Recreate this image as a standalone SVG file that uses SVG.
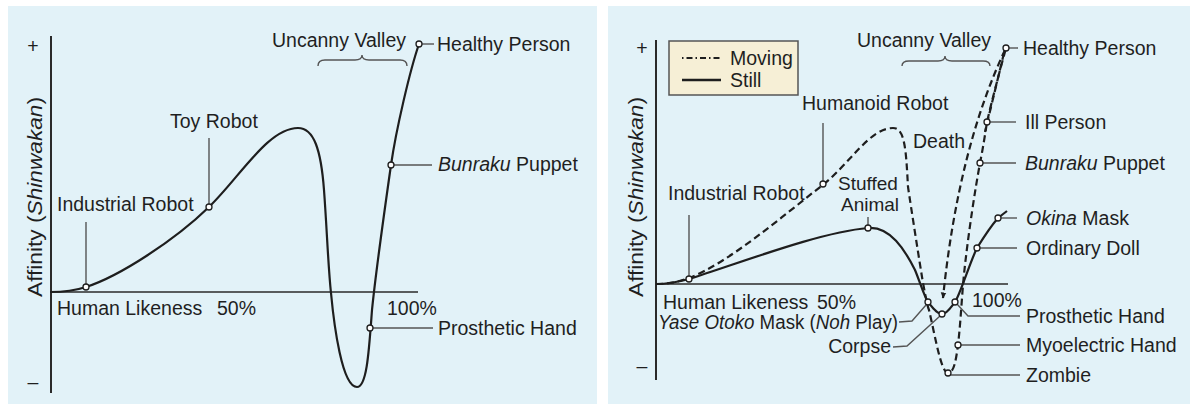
<svg xmlns="http://www.w3.org/2000/svg" width="1193" height="407" viewBox="0 0 1193 407">
<style>
text{font-family:"Liberation Sans",Arial,sans-serif;font-size:19.5px;fill:#1f1f1f}
.it{font-style:italic}
.panel{fill:#e2f2f8}
.axis{stroke:#2a2a2a;stroke-width:2;fill:none}
.xaxis{stroke:#2a2a2a;stroke-width:1.6;fill:none}
.still{stroke:#1e1e1e;stroke-width:2.2;fill:none}
.moving{stroke:#1e1e1e;stroke-width:2.2;fill:none;stroke-dasharray:7 4}
.lead{stroke:#555;stroke-width:1.4;fill:none}
.brace{stroke:#555;stroke-width:1.4;fill:none}
.pt{fill:#fff;stroke:#1e1e1e;stroke-width:1.3}
</style>
<defs>
<marker id="arr" viewBox="0 0 10 10" refX="8" refY="5" markerWidth="7" markerHeight="7" orient="auto" markerUnits="userSpaceOnUse">
<path d="M0,1 L9,5 L0,9 Z" fill="#1e1e1e"/>
</marker>
</defs>
<rect width="1193" height="407" fill="#fff"/>
<rect class="panel" x="8" y="6" width="589" height="398"/>
<rect class="panel" x="608" y="6" width="582" height="398"/>

<!-- LEFT PANEL -->
<g id="left-axes">
<line class="axis" x1="51" y1="36" x2="51" y2="393"/>
<line class="xaxis" x1="51" y1="292" x2="418" y2="292"/>
<text x="33" y="53" text-anchor="middle">+</text>
<text x="33" y="389" text-anchor="middle">–</text>
<text transform="translate(42,197) rotate(-90)" text-anchor="middle" textLength="200" lengthAdjust="spacingAndGlyphs">Affinity (<tspan class="it">Shinwakan</tspan>)</text>
<text x="57" y="315">Human Likeness</text>
<text x="217" y="315">50%</text>
<text x="387" y="315">100%</text>
</g>
<g id="left-connectors">
<path class="still" d="M50,292 C62,292 74,291 86,287 C120,276 175,240 209,207 C240,177 268,128 298,128 C314,128 321,150 324,190 C327,230 328,265 331,293 C334,325 342,387 357,387 C367,387 369,350 372,310 C375,280 386,200 391,165 C396,130 410,70 419,44"/>
<path class="brace" d="M318,66 Q318,60 325,60 L355,60 Q362,60 362,55 Q362,60 369,60 L400,60 Q407,60 407,66"/>
<line class="lead" x1="86" y1="222" x2="86" y2="284"/>
<line class="lead" x1="209" y1="138" x2="209" y2="204"/>
<line class="lead" x1="422" y1="44" x2="434" y2="44"/>
<line class="lead" x1="394" y1="165" x2="432" y2="165"/>
<line class="lead" x1="373" y1="328" x2="433" y2="328"/>
</g>
<g id="left-industrial-robot"><circle class="pt" cx="86" cy="287" r="3"/><text x="57" y="211">Industrial Robot</text></g>
<g id="left-toy-robot"><circle class="pt" cx="209" cy="207" r="3"/><text x="170" y="128">Toy Robot</text></g>
<g id="left-uncanny-valley"><text x="272" y="47">Uncanny Valley</text></g>
<g id="left-healthy-person"><circle class="pt" cx="419" cy="44" r="3"/><text x="437" y="51">Healthy Person</text></g>
<g id="left-bunraku"><circle class="pt" cx="391" cy="165" r="3"/><text x="438" y="171"><tspan class="it">Bunraku</tspan> Puppet</text></g>
<g id="left-prosthetic"><circle class="pt" cx="370" cy="328" r="3"/><text x="438" y="335">Prosthetic Hand</text></g>

<!-- RIGHT PANEL -->
<g id="right-axes">
<line class="axis" x1="656" y1="40" x2="656" y2="380"/>
<line class="xaxis" x1="656" y1="284" x2="1008" y2="284"/>
<text x="642" y="55" text-anchor="middle">+</text>
<text x="642" y="373" text-anchor="middle">–</text>
<text transform="translate(643,197) rotate(-90)" text-anchor="middle" textLength="200" lengthAdjust="spacingAndGlyphs">Affinity (<tspan class="it">Shinwakan</tspan>)</text>
<text x="663" y="309">Human Likeness</text>
<text x="817" y="309">50%</text>
<text x="972" y="307">100%</text>
</g>
<g id="legend">
<rect x="669" y="41" width="129" height="54" fill="#f6efd6" stroke="#555" stroke-width="1.5"/>
<line x1="682" y1="58" x2="721" y2="58" stroke="#1e1e1e" stroke-width="2" stroke-dasharray="1.5 3 6 3"/>
<text x="730" y="65">Moving</text>
<line x1="682" y1="80" x2="721" y2="80" stroke="#1e1e1e" stroke-width="2.5"/>
<text x="730" y="87">Still</text>
</g>
<g id="right-connectors">
<path class="still" d="M656,284 C670,284 678,282 689,279 C740,263 820,232 868,228 C890,226 905,250 915,270 C920,282 924,296 928,302 C933,308 937,314 942,314 C947,314 951,307 955,302 C960,295 970,262 977,248 C985,235 992,225 998,218 L1007,211"/>
<path class="moving" d="M656,284 C668,284 678,282 689,278 C730,262 780,218 824,184 C850,163 870,128 893,128 C905,128 906,150 908,187 C911,207 920,265 923,283 C926,298 927,305 929,310 C935,335 941,373 948,373 C954,373 956,360 958,345 C961,320 962,290 965,265 C969,230 975,190 980,163 C983,148 985,135 987,122 C992,100 1000,70 1006,48"/>
<path class="moving" d="M1004,53 L985,132"/>
<path class="moving" d="M1005,50 Q958,150 943,298" marker-end="url(#arr)"/>
<path class="brace" d="M902,66 Q902,61 909,61 L938,61 Q945,61 945,56 Q945,61 952,61 L983,61 Q990,61 990,66"/>
<line class="lead" x1="689" y1="215" x2="689" y2="276"/>
<line class="lead" x1="823" y1="123" x2="823" y2="181"/>
<line class="lead" x1="868" y1="217" x2="868" y2="225"/>
<line class="lead" x1="1009" y1="48" x2="1018" y2="48"/>
<line class="lead" x1="990" y1="122" x2="1016" y2="122"/>
<line class="lead" x1="983" y1="163" x2="1016" y2="163"/>
<line class="lead" x1="1001" y1="218" x2="1017" y2="218"/>
<line class="lead" x1="980" y1="248" x2="1017" y2="248"/>
<polyline class="lead" points="957,304 968,316 1020,316"/>
<line class="lead" x1="961" y1="345" x2="1020" y2="345"/>
<line class="lead" x1="951" y1="375" x2="1020" y2="375"/>
<polyline class="lead" points="899,322 912,321 926,305"/>
<polyline class="lead" points="893,347 907,346 940,316"/>
</g>
<g id="right-industrial-robot"><circle class="pt" cx="689" cy="279" r="3"/><text x="668" y="200">Industrial Robot</text></g>
<g id="right-humanoid-robot"><circle class="pt" cx="823" cy="184" r="3"/><text x="802" y="110">Humanoid Robot</text></g>
<g id="right-stuffed-animal"><circle class="pt" cx="868" cy="228" r="3"/><text x="868" y="190" text-anchor="middle" style="font-size:19px">Stuffed</text><text x="870" y="211" text-anchor="middle" style="font-size:19px">Animal</text></g>
<g id="right-uncanny-valley"><text x="857" y="47">Uncanny Valley</text></g>
<g id="right-death"><text x="913" y="148">Death</text></g>
<g id="right-healthy-person"><circle class="pt" cx="1006" cy="48" r="3"/><text x="1023" y="55">Healthy Person</text></g>
<g id="right-ill-person"><circle class="pt" cx="987" cy="122" r="3"/><text x="1025" y="129">Ill Person</text></g>
<g id="right-bunraku"><circle class="pt" cx="980" cy="163" r="3"/><text x="1025" y="170"><tspan class="it">Bunraku</tspan> Puppet</text></g>
<g id="right-okina"><circle class="pt" cx="998" cy="218" r="3"/><text x="1026" y="225"><tspan class="it">Okina</tspan> Mask</text></g>
<g id="right-ordinary-doll"><circle class="pt" cx="977" cy="248" r="3"/><text x="1026" y="255">Ordinary Doll</text></g>
<g id="right-prosthetic"><circle class="pt" cx="955" cy="302" r="3"/><text x="1026" y="323">Prosthetic Hand</text></g>
<g id="right-myoelectric"><circle class="pt" cx="958" cy="345" r="3"/><text x="1026" y="352">Myoelectric Hand</text></g>
<g id="right-zombie"><circle class="pt" cx="948" cy="373" r="3"/><text x="1026" y="382">Zombie</text></g>
<g id="right-yase-otoko"><circle class="pt" cx="928" cy="302" r="3"/><text x="898" y="329" text-anchor="end" textLength="240" lengthAdjust="spacingAndGlyphs"><tspan class="it">Yase Otoko</tspan> Mask (<tspan class="it">Noh</tspan> Play)</text></g>
<g id="right-corpse"><circle class="pt" cx="942" cy="314" r="3"/><text x="891" y="353" text-anchor="end">Corpse</text></g>
</svg>
